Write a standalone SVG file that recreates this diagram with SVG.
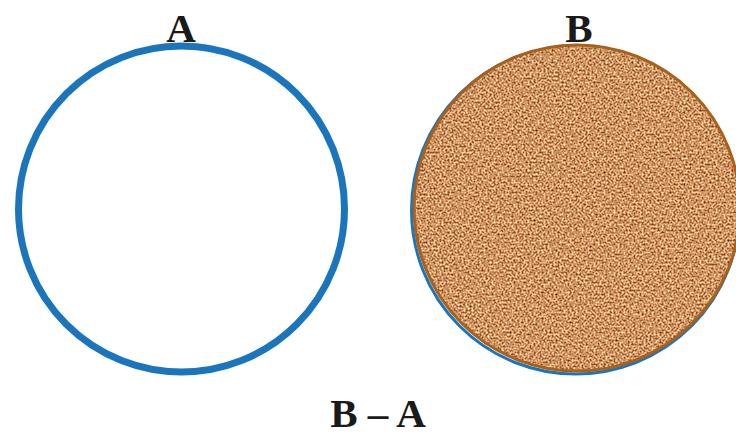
<svg xmlns="http://www.w3.org/2000/svg" width="736" height="436" viewBox="0 0 736 436">
  <defs>
    <filter id="cork" x="0" y="0" width="100%" height="100%" filterUnits="objectBoundingBox" color-interpolation-filters="sRGB">
      <feTurbulence type="fractalNoise" baseFrequency="0.5" numOctaves="3" seed="7" result="noise"/>
      <feColorMatrix in="noise" type="matrix" values="1.3 0 0 0 0.16  1.3 0 0 0 -0.07  1.1 0 0 0 -0.16  0 0 0 0 1" result="tex"/>
      <feComposite in="tex" in2="SourceGraphic" operator="in"/>
    </filter>
    <style>
      .lbl { font-family: "Liberation Serif", "DejaVu Serif", serif; font-weight: bold; font-size: 41px; fill: #1a1a1a; text-anchor: middle; }
      .ringA { fill: none; stroke: #1a75bd; stroke-width: 7; }
    </style>
  </defs>
  <rect width="736" height="436" fill="#ffffff"/>
  <g id="setA">
    <circle class="ringA" cx="181.5" cy="209" r="163"/>
    <text class="lbl" x="181" y="42">A</text>
  </g>
  <g id="setB">
    <circle cx="575.5" cy="210" r="164" fill="none" stroke="#1a75bd" stroke-width="3"/>
    <circle cx="577" cy="208" r="163" fill="#c08a58"/>
    <circle cx="577" cy="208" r="163" fill="#000" filter="url(#cork)"/>
    <circle cx="577" cy="208" r="163" fill="none" stroke="#a8601a" stroke-width="3"/>
    <text class="lbl" x="579" y="42">B</text>
  </g>
  <g id="connectors"></g>
  <text class="lbl" x="378" y="427">B – A</text>
</svg>
